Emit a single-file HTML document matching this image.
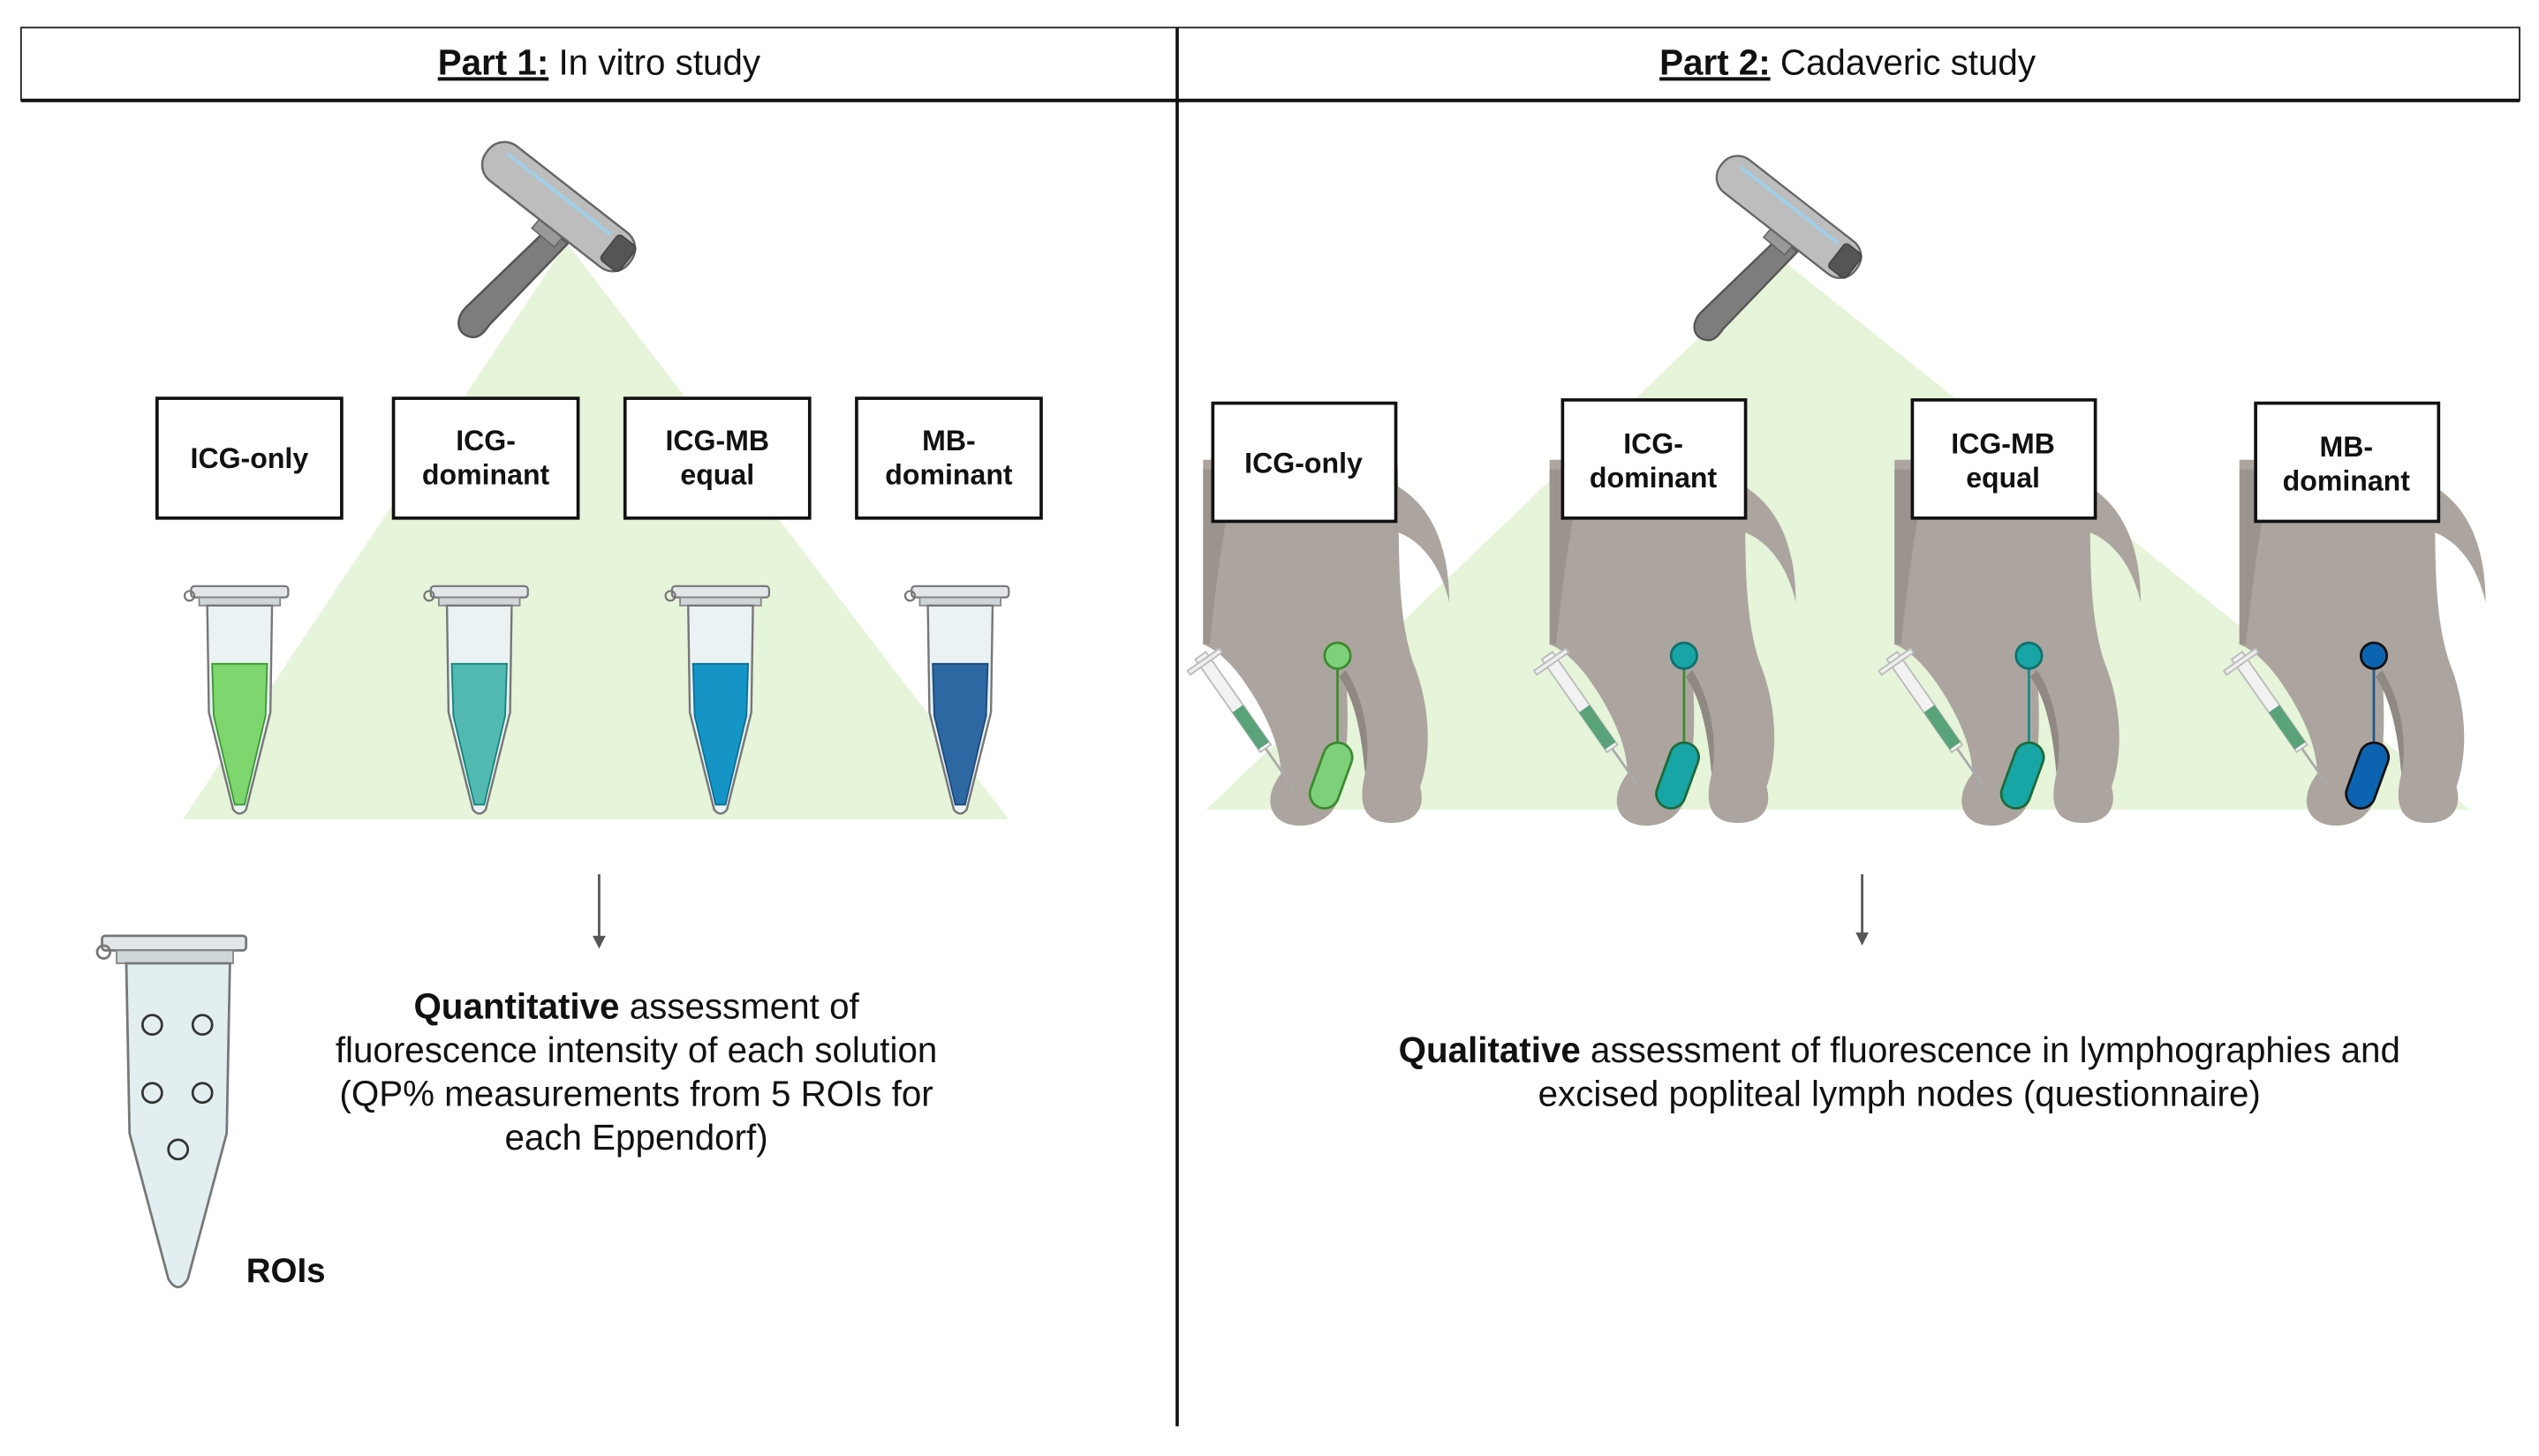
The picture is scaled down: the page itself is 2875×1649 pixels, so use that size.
<!DOCTYPE html>
<html><head><meta charset="utf-8"><style>
html,body{margin:0;padding:0;background:#fff;}
svg{display:block;}
text{font-family:"Liberation Sans",Arial,sans-serif;fill:#111;}
</style></head><body>
<svg width="2875" height="1649" viewBox="0 0 1568 899.3" xmlns="http://www.w3.org/2000/svg">
<defs>
<g id="scan">
  <path d="M-2,8 L-58,62 C-66,70 -64,80 -56,82 C-50,84 -46,80 -42,74 L12,18 Z" fill="#7d7d7d" stroke="#555" stroke-width="1.5"/>
  <rect x="-10" y="0" width="20" height="16" transform="rotate(40 0 8)" fill="#999" stroke="#666"/>
  <g transform="rotate(38)">
    <rect x="-62" y="-24" width="124" height="30" rx="14" fill="#bdbdbd" stroke="#666" stroke-width="1.5"/>
    <path d="M-50,-16 L40,-16" stroke="#9fd0e8" stroke-width="2.5"/>
    <rect x="44" y="-20" width="16" height="22" rx="3" fill="#555" stroke="#444"/>
  </g>
</g>
<g id="tube">
  <rect x="-30" y="362" width="60" height="7" rx="2" fill="#e2e6e8" stroke="#777" stroke-width="1.2"/>
  <circle cx="-31" cy="368" r="3" fill="none" stroke="#777" stroke-width="1.2"/>
  <rect x="-25" y="369" width="50" height="5" fill="#cfd6d9" stroke="#888" stroke-width="1"/>
  <path d="M-20,374 L20,374 L19,440 L4,500 Q0,505 -4,500 L-19,440 Z" fill="#eaf2f4" stroke="#777" stroke-width="1.3"/>
</g>
<g id="dog">
  <path d="M0,284 L120,284 C122,330 118,375 130,410 C142,440 140,470 134,486 C138,500 130,510 112,508 C98,506 96,494 100,478 C102,455 96,432 88,414 C90,440 90,468 84,488 C84,506 64,514 50,508 C38,502 40,488 48,478 C48,462 40,444 30,428 C20,412 10,402 0,398 Z" fill="#aca59f"/>
  <path d="M20,290 C12,330 8,360 4,398 L0,398 L0,290 Z" fill="#9b948e"/>
  <path d="M88,414 C100,432 104,460 100,478 C98,455 94,432 84,418 Z" fill="#8f8883"/>
  <path d="M116,298 C136,308 152,330 152,372 C146,346 132,332 118,328 Z" fill="#aca59f"/>
  <g transform="rotate(-35 30 450)">
    <rect x="26" y="395" width="8" height="70" fill="#f2f2f2" stroke="#bbb" stroke-width="1"/>
    <rect x="18" y="398" width="24" height="3" fill="#eee" stroke="#bbb" stroke-width="1"/>
    <rect x="26" y="435" width="8" height="28" class="fl"/>
    <line x1="30" y1="465" x2="30" y2="495" stroke="#aaa" stroke-width="1.5"/>
  </g>
</g>
</defs>

<rect x="13" y="17" width="1543" height="45" fill="#fff" stroke="#222" stroke-width="1"/>
<line x1="13" y1="62" x2="1556" y2="62" stroke="#111" stroke-width="2.2"/>
<line x1="727" y1="17" x2="727" y2="881" stroke="#111" stroke-width="2"/>
<text x="370" y="46" font-size="22" text-anchor="middle"><tspan font-weight="bold" text-decoration="underline">Part 1:</tspan> In vitro study</text>
<text x="1141" y="46" font-size="22" text-anchor="middle"><tspan font-weight="bold" text-decoration="underline">Part 2:</tspan>  Cadaveric study</text>

<polygon points="350,150 623,506 113,506" fill="#e6f4d9"/>
<use href="#scan" transform="translate(340 134) scale(0.9)"/>
<g font-size="17.5" font-weight="bold" text-anchor="middle">
<rect x="97" y="246" width="114" height="74" fill="#fff" stroke="#111" stroke-width="2"/>
<text x="154" y="289">ICG-only</text>
<rect x="243" y="246" width="114" height="74" fill="#fff" stroke="#111" stroke-width="2"/>
<text x="300" y="278">ICG-</text><text x="300" y="299">dominant</text>
<rect x="386" y="246" width="114" height="74" fill="#fff" stroke="#111" stroke-width="2"/>
<text x="443" y="278">ICG-MB</text><text x="443" y="299">equal</text>
<rect x="529" y="246" width="114" height="74" fill="#fff" stroke="#111" stroke-width="2"/>
<text x="586" y="278">MB-</text><text x="586" y="299">dominant</text>
</g>
<g transform="translate(148 0)"><use href="#tube"/><path d="M-17,410 L17,410 L16,442 L3,497 L-3,497 L-16,442 Z" fill="#7fd66f" stroke="#3a9a30" stroke-width="1"/></g>
<g transform="translate(296 0)"><use href="#tube"/><path d="M-17,410 L17,410 L16,442 L3,497 L-3,497 L-16,442 Z" fill="#52b9b1" stroke="#14857c" stroke-width="1"/></g>
<g transform="translate(445 0)"><use href="#tube"/><path d="M-17,410 L17,410 L16,442 L3,497 L-3,497 L-16,442 Z" fill="#1595c6" stroke="#0a6f99" stroke-width="1"/></g>
<g transform="translate(593 0)"><use href="#tube"/><path d="M-17,410 L17,410 L16,442 L3,497 L-3,497 L-16,442 Z" fill="#2e68a2" stroke="#1a4a80" stroke-width="1"/></g>

<line x1="370" y1="540" x2="370" y2="580" stroke="#555" stroke-width="1.5"/>
<path d="M366,578 L370,586 L374,578 Z" fill="#555"/>

<rect x="63" y="578" width="89" height="9" rx="2" fill="#e2e6e8" stroke="#777" stroke-width="1.5"/>
<circle cx="64" cy="588" r="4" fill="none" stroke="#777" stroke-width="1.5"/>
<rect x="72" y="587" width="72" height="8" fill="#cfd6d9" stroke="#888"/>
<path d="M78,595 L142,595 L140,700 L116,790 Q110,800 104,790 L80,700 Z" fill="#e3eef1" stroke="#777" stroke-width="1.5"/>
<g fill="none" stroke="#333" stroke-width="1.5">
<circle cx="94" cy="633" r="6"/><circle cx="125" cy="633" r="6"/>
<circle cx="94" cy="675" r="6"/><circle cx="125" cy="675" r="6"/>
<circle cx="110" cy="710" r="6"/>
</g>
<text x="152" y="792" font-size="21" font-weight="bold">ROIs</text>

<g font-size="22" text-anchor="middle">
<text x="393" y="629"><tspan font-weight="bold">Quantitative</tspan> assessment of</text>
<text x="393" y="656">fluorescence intensity of each solution</text>
<text x="393" y="683">(QP% measurements from 5 ROIs for</text>
<text x="393" y="710">each Eppendorf)</text>
</g>

<polygon points="1100,160 1525,500 745,500" fill="#e6f4d9"/>
<use href="#scan" transform="translate(1100 140) scale(0.85)"/>

<style>.fl{fill:#5aa37a}</style>
<g transform="translate(743 0)"><use href="#dog"/>
  <line x1="83" y1="405" x2="83" y2="465" stroke="#3d8a2f" stroke-width="1.5"/>
  <circle cx="83" cy="405" r="8" fill="#7fd07a" stroke="#3d8a2f" stroke-width="1.5"/>
  <rect x="70" y="458" width="18" height="42" rx="9" transform="rotate(20 79 479)" fill="#7fd07a" stroke="#3d8a2f" stroke-width="1.5"/>
</g>
<g transform="translate(957 0)"><use href="#dog"/>
  <line x1="83" y1="405" x2="83" y2="465" stroke="#3d8a2f" stroke-width="1.5"/>
  <circle cx="83" cy="405" r="8" fill="#17a5a5" stroke="#10706e" stroke-width="1.5"/>
  <rect x="70" y="458" width="18" height="42" rx="9" transform="rotate(20 79 479)" fill="#17a5a5" stroke="#1e6a3a" stroke-width="1.5"/>
</g>
<g transform="translate(1170 0)"><use href="#dog"/>
  <line x1="83" y1="405" x2="83" y2="465" stroke="#138a8a" stroke-width="1.5"/>
  <circle cx="83" cy="405" r="8" fill="#17a5a5" stroke="#10706e" stroke-width="1.5"/>
  <rect x="70" y="458" width="18" height="42" rx="9" transform="rotate(20 79 479)" fill="#17a5a5" stroke="#1e6a3a" stroke-width="1.5"/>
</g>
<g transform="translate(1383 0)"><use href="#dog"/>
  <line x1="83" y1="405" x2="83" y2="465" stroke="#1a5a90" stroke-width="1.5"/>
  <circle cx="83" cy="405" r="8" fill="#0c63b0" stroke="#111" stroke-width="1.5"/>
  <rect x="70" y="458" width="18" height="42" rx="9" transform="rotate(20 79 479)" fill="#0c63b0" stroke="#111" stroke-width="1.5"/>
</g>

<g font-size="17.5" font-weight="bold" text-anchor="middle">
<rect x="749" y="249" width="113" height="73" fill="#fff" stroke="#111" stroke-width="2"/>
<text x="805" y="292">ICG-only</text>
<rect x="965" y="247" width="113" height="73" fill="#fff" stroke="#111" stroke-width="2"/>
<text x="1021" y="280">ICG-</text><text x="1021" y="301">dominant</text>
<rect x="1181" y="247" width="113" height="73" fill="#fff" stroke="#111" stroke-width="2"/>
<text x="1237" y="280">ICG-MB</text><text x="1237" y="301">equal</text>
<rect x="1393" y="249" width="113" height="73" fill="#fff" stroke="#111" stroke-width="2"/>
<text x="1449" y="282">MB-</text><text x="1449" y="303">dominant</text>
</g>

<line x1="1150" y1="540" x2="1150" y2="578" stroke="#555" stroke-width="1.5"/>
<path d="M1146,576 L1150,584 L1154,576 Z" fill="#555"/>

<g font-size="22" text-anchor="middle">
<text x="1173" y="656"><tspan font-weight="bold">Qualitative</tspan> assessment of fluorescence in lymphographies and</text>
<text x="1173" y="683">excised popliteal lymph nodes (questionnaire)</text>
</g>
</svg>
</body></html>
